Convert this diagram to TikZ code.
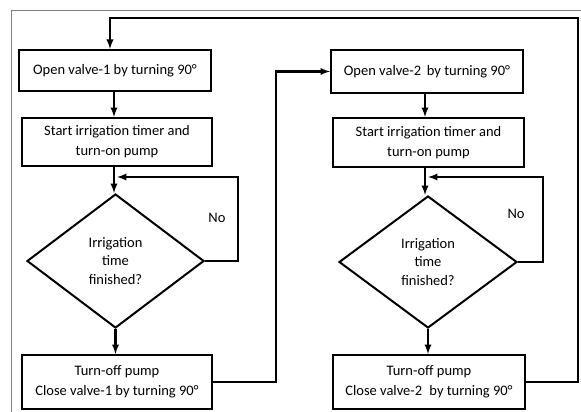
\documentclass[tikz,border=0pt]{standalone}
\usepackage{fontspec}
\setmainfont{Carlito}
\usetikzlibrary{shapes.geometric}
\begin{document}
\begin{tikzpicture}[x=1pt,y=-1pt]

    \tikzset{
      stepbox/.style={
        draw,
        line width=2.2pt,
        align=center,
        inner sep=0pt,
        font=\fontsize{14.5}{20}\selectfont,
      },
      decision/.style={
        draw,
        diamond,
        line width=2pt,
        align=center,
        inner sep=0pt,
        font=\fontsize{14.5}{18.5}\selectfont,
      },
      flow/.style={line width=2.2pt,>=latex,->},
    }
    \useasboundingbox (0,0) rectangle (581,412);
    \draw[color={gray},line width = 1] (11,412)--(11,11)--(581,11);

	% left column
	\node[stepbox,minimum width=192,minimum height=41] (open1) at (115,70.5) {Open valve-1 by turning 90°};
	\node[stepbox,minimum width=190,minimum height=48] (start1) at (117,142) {Start irrigation timer and\\turn-on pump};
	\node[decision,minimum width=177,minimum height=134] (check1) at (115.5,261) {Irrigation\\time\\finished?};
	\node[stepbox,minimum width=190,minimum height=54] (close1) at (117,382) {Turn-off pump\\Close valve-1 by turning 90°};
	\node (no1) at (217,218) {\fontsize{14.5}{16}\selectfont No};
	\coordinate (back1) at (117,177);

	% right column
	\node[stepbox,minimum width=192,minimum height=43] (open2) at (427,71.5) {Open valve-2\, by turning 90°};
	\node[stepbox,minimum width=191,minimum height=49] (start2) at (428.5,142.5) {Start irrigation timer and\\turn-on pump};
	\node[decision,minimum width=178,minimum height=132] (check2) at (428,262) {Irrigation\\time\\finished?};
	\node[stepbox,minimum width=192,minimum height=54] (close2) at (429,382) {Turn-off pump\\Close valve-2\enspace by turning 90°};
	\node (no2) at (516,214) {\fontsize{14.5}{16}\selectfont No};
	\coordinate (back2) at (428,177);

	% connectors
	\draw[flow] ([xshift=-1pt]open1.south) -- ([xshift=-1pt]open1.south |- start1.north);
	\draw[flow] ([xshift=-1pt]open1.south |- start1.south) -- ([xshift=-1pt]open1.south |- check1.north);
	\draw[flow] (check1.south) -- (check1.south |- close1.north);
	\draw[flow] (check1.east) -- ++(33,0) |- (back1);
	\draw[flow] (close1.east) -- ++(63,0) |- (open2.west);
	\draw[flow] ([xshift=-2pt]open2.south) -- ([xshift=-2pt]open2.south |- start2.north);
	\draw[flow] ([xshift=-2pt]open2.south |- start2.south) -- ([xshift=-2pt]open2.south |- check2.north);
	\draw[flow] (check2.south) -- (check2.south |- close2.north);
	\draw[flow] (check2.east) -- ++(25,0) |- (back2);
	\draw[flow] (close2.east) -- (578,382) |- (110,18) -- ([xshift=-5pt]open1.north);

\end{tikzpicture}
\end{document}
